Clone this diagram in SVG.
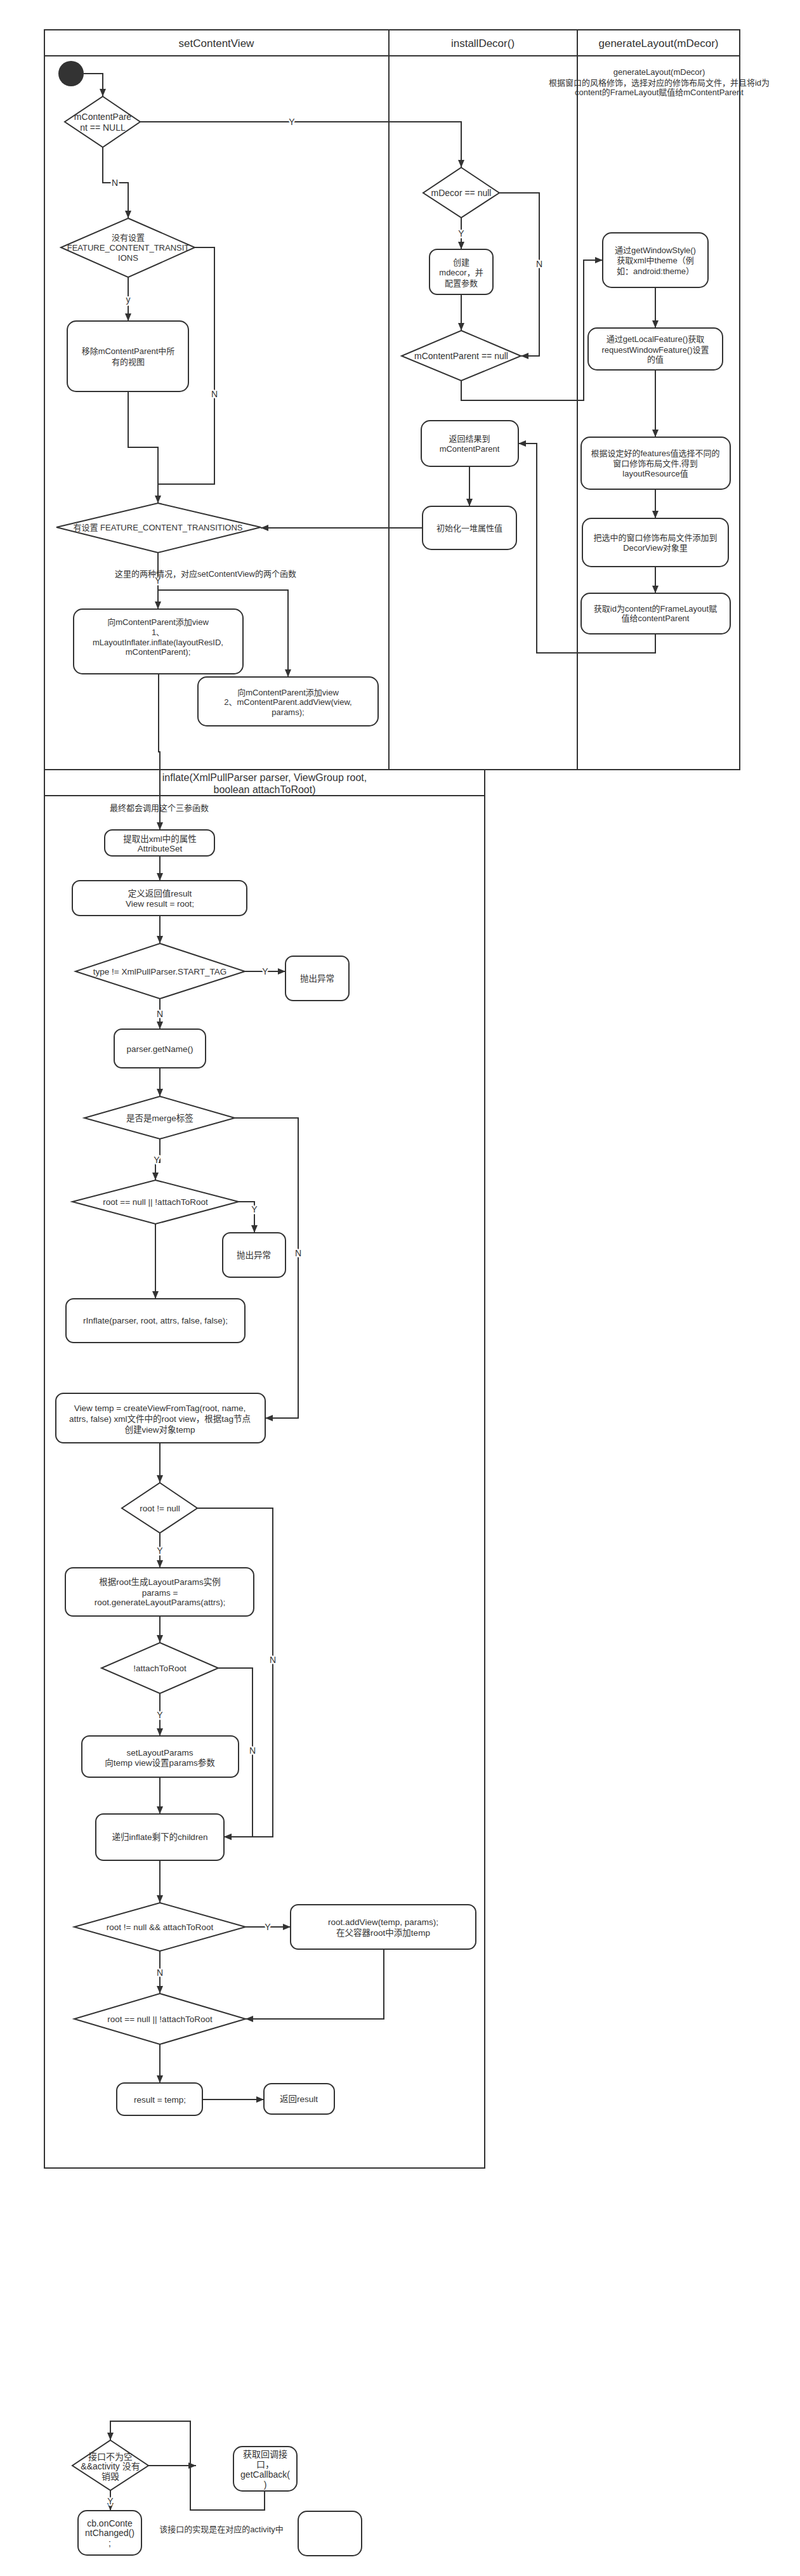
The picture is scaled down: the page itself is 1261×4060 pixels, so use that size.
<svg xmlns="http://www.w3.org/2000/svg" width="1261" height="4060" viewBox="0 0 1261 4060">
<defs>
<marker id="arr" markerUnits="userSpaceOnUse" markerWidth="12" markerHeight="10" refX="12" refY="5" orient="auto">
<path d="M0,0 L12,5 L0,10 z" fill="#333"/>
</marker>
<style>
.pool{fill:none;stroke:#333;stroke-width:2}
.n{fill:#fff;stroke:#333;stroke-width:2}
.e{fill:none;stroke:#333;stroke-width:2;marker-end:url(#arr)}
.e0{fill:none;stroke:#333;stroke-width:2}
text{font-family:"Liberation Sans","Noto Sans CJK SC",sans-serif;fill:#333;text-anchor:middle}
.h{font-size:17px}
.h2{font-size:16px}
.t{font-size:13px}
.t14{font-size:14px}
.ti{font-size:13.5px}
.lbl{font-size:14px;paint-order:stroke;stroke:#fff;stroke-width:5px;stroke-linejoin:round}
</style>
</defs>
<rect width="1261" height="4060" fill="#fff"/>

<g id="pool-top">
<rect class="pool" x="70" y="47" width="1096" height="1166"/>
<line class="pool" x1="70" y1="88" x2="1166" y2="88"/>
<line class="pool" x1="613" y1="47" x2="613" y2="1213"/>
<line class="pool" x1="910" y1="47" x2="910" y2="1213"/>
<text class="h" x="341" y="74">setContentView</text>
<text class="h" x="761" y="74">installDecor()</text>
<text class="h" x="1038" y="74">generateLayout(mDecor)</text>
</g>

<g id="pool-inflate">
<rect class="pool" x="70" y="1213" width="694" height="2204"/>
<line class="pool" x1="70" y1="1254" x2="764" y2="1254"/>
<text class="h2" x="417" y="1231">inflate(XmlPullParser parser, ViewGroup root,</text>
<text class="h2" x="417" y="1250">boolean attachToRoot)</text>
</g>

<g id="connectors">
<path class="e" d="M132,116 H162 V152"/>
<path class="e" d="M221,192 H727 V264"/>
<path class="e" d="M162,232 V288 H202 V344"/>
<path class="e" d="M202,437 V506"/>
<path class="e0" d="M307,390 H338 V763 H249"/>
<path class="e" d="M202,617 V705 H249 V793"/>
<path class="e" d="M249,871 V960"/>
<path class="e" d="M249,930 H454 V1067"/>
<path class="e" d="M250,1062 V1185 H252 V1308"/>
<path class="e" d="M727,343 V393"/>
<path class="e" d="M787,304 H850 V561 H821"/>
<path class="e" d="M727,464 V521"/>
<path class="e" d="M727,600 V631 H920 V410 H950"/>
<path class="e" d="M1033,453 V517"/>
<path class="e" d="M1033,583 V689"/>
<path class="e" d="M1033,771 V817"/>
<path class="e" d="M1033,893 V935"/>
<path class="e" d="M1033,999 V1029 H846 V699 H817"/>
<path class="e" d="M740,735 V798"/>
<path class="e" d="M666,832 H411"/>

<path class="e" d="M252,1349 V1388"/>
<path class="e" d="M252,1443 V1487"/>
<path class="e" d="M386,1531 H450"/>
<path class="e" d="M252,1574 V1622"/>
<path class="e" d="M252,1683 V1728"/>
<path class="e" d="M252,1795 V1832 H245 V1860"/>
<path class="e" d="M376,1894 H401 V1943"/>
<path class="e" d="M245,1929 V2047"/>
<path class="e" d="M370,1762 H470 V2235 H418"/>
<path class="e" d="M252,2274 V2337"/>
<path class="e" d="M252,2416 V2471"/>
<path class="e" d="M311,2377 H430 V2895 H353"/>
<path class="e" d="M252,2547 V2589"/>
<path class="e" d="M252,2669 V2736"/>
<path class="e" d="M344,2629 H398 V2895 H353"/>
<path class="e" d="M252,2801 V2859"/>
<path class="e" d="M252,2932 V2999"/>
<path class="e" d="M387,3037 H458"/>
<path class="e" d="M252,3075 V3142"/>
<path class="e" d="M605,3072 V3182 H387"/>
<path class="e" d="M252,3222 V3283"/>
<path class="e" d="M319,3309 H416"/>

<path class="e" d="M234,3886 H309"/>
<path class="e" d="M417,3926 V3956 H300 V3816 H174 V3846"/>
<path class="e" d="M174,3925 V3957"/>

<text class="lbl" x="460" y="197">Y</text>
<text class="lbl" x="181" y="293">N</text>
<text class="lbl" x="202" y="477">y</text>
<text class="lbl" x="338" y="626">N</text>
<text class="lbl" x="249" y="920">Y</text>
<text class="lbl" x="727" y="373">Y</text>
<text class="lbl" x="850" y="421">N</text>
<text class="lbl" x="418" y="1536">Y</text>
<text class="lbl" x="252" y="1603">N</text>
<text class="lbl" x="247" y="1833">Y</text>
<text class="lbl" x="401" y="1911">Y</text>
<text class="lbl" x="470" y="1980">N</text>
<text class="lbl" x="252" y="2449">Y</text>
<text class="lbl" x="430" y="2621">N</text>
<text class="lbl" x="252" y="2708">Y</text>
<text class="lbl" x="398" y="2764">N</text>
<text class="lbl" x="422" y="3042">Y</text>
<text class="lbl" x="252" y="3114">N</text>
<text class="lbl" x="174" y="3947">Y</text>
</g>

<g id="start">
<circle cx="112" cy="116" r="20" fill="#333"/>
</g>
<g id="d-mcp-null">
<polygon class="n" points="162,152 221,192 162,232 102,192"/>
<text class="t14" x="162" y="189">mContentPare</text>
<text class="t14" x="162" y="206">nt == NULL</text>
</g>
<g id="d-no-feature">
<polygon class="n" points="202,344 307,390 202,437 96,390"/>
<text class="t" x="202" y="379">没有设置</text>
<text class="t" x="202" y="395">FEATURE_CONTENT_TRANSIT</text>
<text class="t" x="202" y="411">IONS</text>
</g>
<g id="n-remove">
<rect class="n" x="106" y="506" width="191" height="111" rx="14"/>
<text class="t" x="202" y="558">移除mContentParent中所</text>
<text class="t" x="202" y="575">有的视图</text>
</g>
<g id="d-feature">
<polygon class="n" points="249,793 411,831 249,871 89,831"/>
<text class="t" x="249" y="836">有设置  FEATURE_CONTENT_TRANSITIONS</text>
</g>
<g id="note-two">
<text class="t" x="324" y="909">这里的两种情况，对应setContentView的两个函数</text>
</g>
<g id="n-add1">
<rect class="n" x="116" y="960" width="267" height="102" rx="14"/>
<text class="t" x="249" y="985">向mContentParent添加view</text>
<text class="t" x="249" y="1001">1、</text>
<text class="t" x="249" y="1017">mLayoutInflater.inflate(layoutResID,</text>
<text class="t" x="249" y="1032">mContentParent);</text>
</g>
<g id="n-add2">
<rect class="n" x="312" y="1067" width="284" height="77" rx="14"/>
<text class="t" x="454" y="1096">向mContentParent添加view</text>
<text class="t" x="454" y="1111">2、mContentParent.addView(view,</text>
<text class="t" x="454" y="1127">params);</text>
</g>

<g id="d-mdecor">
<polygon class="n" points="727,264 787,304 727,343 667,304"/>
<text class="t14" x="727" y="309">mDecor == null</text>
</g>
<g id="n-create">
<rect class="n" x="677" y="393" width="100" height="71" rx="12"/>
<text class="t" x="727" y="418">创建</text>
<text class="t" x="727" y="434">mdecor，并</text>
<text class="t" x="727" y="451">配置参数</text>
</g>
<g id="d-mcp-null2">
<polygon class="n" points="727,521 821,561 727,600 633,561"/>
<text class="t14" x="727" y="566">mContentParent == null</text>
</g>
<g id="n-return">
<rect class="n" x="664" y="663" width="153" height="72" rx="14"/>
<text class="t" x="740" y="696">返回结果到</text>
<text class="t" x="740" y="712">mContentParent</text>
</g>
<g id="n-init">
<rect class="n" x="666" y="798" width="148" height="68" rx="14"/>
<text class="t" x="740" y="837">初始化一堆属性值</text>
</g>

<g id="note-generate">
<text class="t" x="1039" y="118">generateLayout(mDecor)</text>
<text class="t" x="1039" y="135">根据窗口的风格修饰，选择对应的修饰布局文件，并且将id为</text>
<text class="t" x="1039" y="150">content的FrameLayout赋值给mContentParent</text>
</g>
<g id="n-style">
<rect class="n" x="950" y="367" width="166" height="86" rx="14"/>
<text class="t" x="1033" y="399">通过getWindowStyle()</text>
<text class="t" x="1033" y="415">获取xml中theme（例</text>
<text class="t" x="1033" y="432">如：android:theme）</text>
</g>
<g id="n-feature">
<rect class="n" x="927" y="517" width="212" height="66" rx="14"/>
<text class="t" x="1033" y="539">通过getLocalFeature()获取</text>
<text class="t" x="1033" y="556">requestWindowFeature()设置</text>
<text class="t" x="1033" y="571">的值</text>
</g>
<g id="n-choose">
<rect class="n" x="916" y="689" width="235" height="82" rx="14"/>
<text class="t" x="1033" y="719">根据设定好的features值选择不同的</text>
<text class="t" x="1033" y="735">窗口修饰布局文件,得到</text>
<text class="t" x="1033" y="751">layoutResource值</text>
</g>
<g id="n-adddecor">
<rect class="n" x="918" y="817" width="230" height="76" rx="14"/>
<text class="t" x="1033" y="852">把选中的窗口修饰布局文件添加到</text>
<text class="t" x="1033" y="868">DecorView对象里</text>
</g>
<g id="n-getcontent">
<rect class="n" x="916" y="935" width="235" height="64" rx="14"/>
<text class="t" x="1033" y="964">获取id为content的FrameLayout赋</text>
<text class="t" x="1033" y="979">值给contentParent</text>
</g>

<g id="note-final">
<text class="t" x="251" y="1278">最终都会调用这个三参函数</text>
</g>
<g id="n-attrs">
<rect class="n" x="165" y="1308" width="173" height="41" rx="12"/>
<text class="ti" x="252" y="1327">提取出xml中的属性</text>
<text class="ti" x="252" y="1342">AttributeSet</text>
</g>
<g id="n-result-def">
<rect class="n" x="114" y="1388" width="275" height="55" rx="12"/>
<text class="ti" x="252" y="1413">定义返回值result</text>
<text class="ti" x="252" y="1429">View result = root;</text>
</g>
<g id="d-type">
<polygon class="n" points="252,1487 386,1531 252,1574 119,1531"/>
<text class="ti" x="252" y="1536">type != XmlPullParser.START_TAG</text>
</g>
<g id="n-throw1">
<rect class="n" x="450" y="1507" width="100" height="70" rx="12"/>
<text class="ti" x="500" y="1547">抛出异常</text>
</g>
<g id="n-getname">
<rect class="n" x="180" y="1622" width="144" height="61" rx="12"/>
<text class="ti" x="252" y="1658">parser.getName()</text>
</g>
<g id="d-merge">
<polygon class="n" points="252,1728 370,1762 252,1795 133,1762"/>
<text class="ti" x="252" y="1767">是否是merge标签</text>
</g>
<g id="d-root-null1">
<polygon class="n" points="245,1860 376,1894 245,1929 114,1894"/>
<text class="ti" x="245" y="1899">root == null || !attachToRoot</text>
</g>
<g id="n-throw2">
<rect class="n" x="351" y="1943" width="99" height="70" rx="12"/>
<text class="ti" x="400" y="1983">抛出异常</text>
</g>
<g id="n-rinflate">
<rect class="n" x="104" y="2047" width="282" height="69" rx="12"/>
<text class="ti" x="245" y="2086">rInflate(parser, root, attrs, false, false);</text>
</g>
<g id="n-temp">
<rect class="n" x="88" y="2196" width="330" height="78" rx="12"/>
<text class="ti" x="252" y="2224">View temp = createViewFromTag(root, name,</text>
<text class="ti" x="252" y="2241">attrs, false)  xml文件中的root view，根据tag节点</text>
<text class="ti" x="252" y="2258">创建view对象temp</text>
</g>
<g id="d-root-notnull">
<polygon class="n" points="252,2337 311,2377 252,2416 192,2377"/>
<text class="ti" x="252" y="2382">root != null</text>
</g>
<g id="n-params">
<rect class="n" x="103" y="2471" width="297" height="76" rx="12"/>
<text class="ti" x="252" y="2498">根据root生成LayoutParams实例</text>
<text class="ti" x="252" y="2515">params =</text>
<text class="ti" x="252" y="2530">root.generateLayoutParams(attrs);</text>
</g>
<g id="d-notattach">
<polygon class="n" points="252,2589 344,2629 252,2669 160,2629"/>
<text class="ti" x="252" y="2634">!attachToRoot</text>
</g>
<g id="n-setlp">
<rect class="n" x="129" y="2736" width="247" height="65" rx="12"/>
<text class="ti" x="252" y="2767">setLayoutParams</text>
<text class="ti" x="252" y="2783">向temp view设置params参数</text>
</g>
<g id="n-children">
<rect class="n" x="151" y="2859" width="202" height="73" rx="12"/>
<text class="ti" x="252" y="2900">递归inflate剩下的children</text>
</g>
<g id="d-attach">
<polygon class="n" points="252,2999 387,3037 252,3075 117,3037"/>
<text class="ti" x="252" y="3042">root != null &amp;&amp; attachToRoot</text>
</g>
<g id="n-addview">
<rect class="n" x="458" y="3002" width="292" height="70" rx="12"/>
<text class="ti" x="604" y="3034">root.addView(temp, params);</text>
<text class="ti" x="604" y="3051">在父容器root中添加temp</text>
</g>
<g id="d-root-null2">
<polygon class="n" points="252,3142 387,3182 252,3222 117,3182"/>
<text class="ti" x="252" y="3187">root == null || !attachToRoot</text>
</g>
<g id="n-result">
<rect class="n" x="184" y="3283" width="135" height="51" rx="12"/>
<text class="ti" x="252" y="3314">result = temp;</text>
</g>
<g id="n-return-result">
<rect class="n" x="416" y="3284" width="111" height="48" rx="12"/>
<text class="ti" x="471" y="3313">返回result</text>
</g>

<g id="d-callback">
<polygon class="n" points="174,3846 234,3886 174,3925 114,3886"/>
<text class="t14" x="174" y="3877">接口不为空</text>
<text class="t14" x="174" y="3892">&amp;&amp;activity 没有</text>
<text class="t14" x="174" y="3908">销毁</text>
</g>
<g id="n-getcallback">
<rect class="n" x="368" y="3856" width="100" height="70" rx="14"/>
<text class="t14" x="418" y="3873">获取回调接</text>
<text class="t14" x="418" y="3889">口，</text>
<text class="t14" x="418" y="3905">getCallback(</text>
<text class="t14" x="418" y="3921">)</text>
</g>
<g id="n-cb">
<rect class="n" x="123" y="3957" width="100" height="70" rx="14"/>
<text class="t14" x="173" y="3982">cb.onConte</text>
<text class="t14" x="173" y="3997">ntChanged()</text>
<text class="t14" x="173" y="4013">;</text>
</g>
<g id="note-impl">
<text class="t" x="349" y="3991">该接口的实现是在对应的activity中</text>
</g>
<g id="n-empty">
<rect class="n" x="470" y="3958" width="100" height="70" rx="14"/>
</g>
</svg>
